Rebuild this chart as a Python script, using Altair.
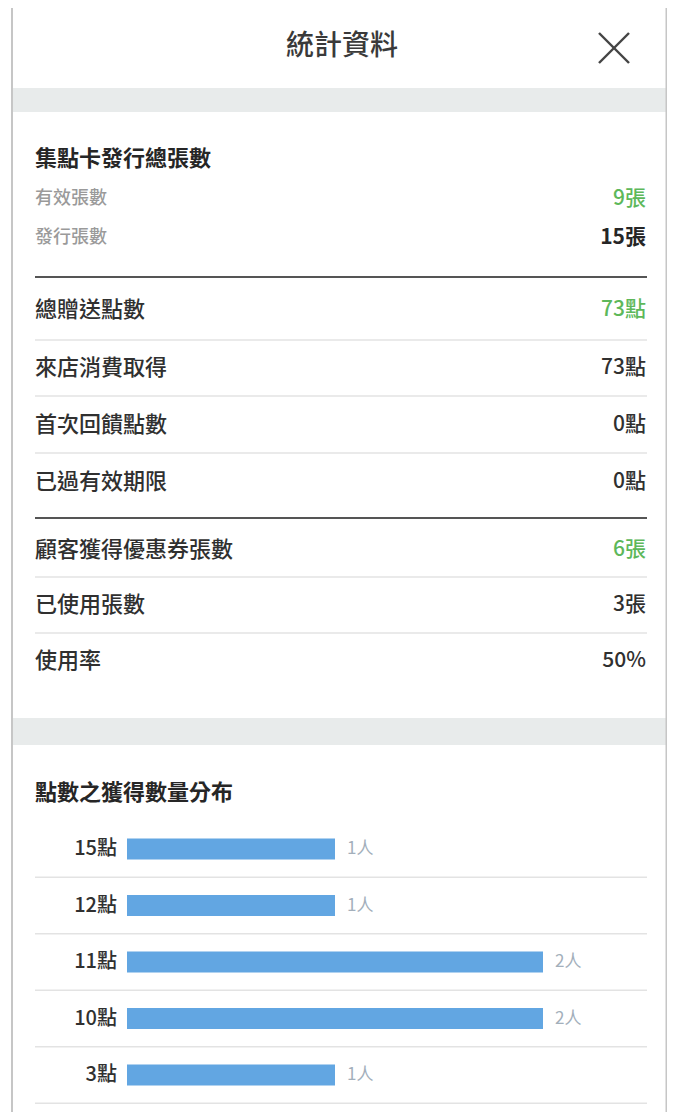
import altair as alt
import pandas as pd

# ---------------- data ----------------
page_title = "統計資料"

card_title = "集點卡發行總張數"
card_labels = ["有效張數", "發行張數"]
card_values = [9, 15]

point_labels = ["總贈送點數", "來店消費取得", "首次回饋點數", "已過有效期限"]
point_values = [73, 73, 0, 0]

coupon_labels = ["顧客獲得優惠券張數", "已使用張數", "使用率"]
coupon_values = [6, 3, 50]
coupon_units = ["張", "張", "%"]

dist_title = "點數之獲得數量分布"
dist_points = ["15點", "12點", "11點", "10點", "3點", "1點"]
dist_people = [1, 1, 2, 2, 1, 1]

# ---------------- layout / style ----------------
W, H = 659, 1104
FONT = "Noto Sans CJK TC"
GREEN = "#5db85a"
DARK = "#262626"
TEXT = "#303030"
GREY = "#9a9a9a"
BAR = "#62a6e2"
LX, RX = 27, 638          # text column left / right
LINE_X0, LINE_X1 = 27, 639

card_title_y = 151
card_y = [191, 230]
point_y = [302, 360, 417, 474]
coupon_y = [542, 597, 653]
dist_title_y = 785
thick_y = [269, 510]
thin_y = [332, 388, 445, 569, 625]
bands = [(80, 104), (710, 737)]
dist_range = [812.75, 1151.75]

ypix = alt.Scale(domain=[0, H], range=[0, H])

# ---------------- tables ----------------
rows_sub = pd.DataFrame(dict(label=card_labels, y=card_y))
card_vals = pd.DataFrame(dict(value=[f"{v}張" for v in card_values], y=card_y))

main_rows = []
for i, (lab, v, y) in enumerate(zip(point_labels, point_values, point_y)):
    main_rows.append(dict(label=lab, value=f"{v}點", y=y, c=GREEN if i == 0 else TEXT))
for i, (lab, v, u, y) in enumerate(zip(coupon_labels, coupon_values, coupon_units, coupon_y)):
    main_rows.append(dict(label=lab, value=f"{v}{u}", y=y, c=GREEN if i == 0 else TEXT))
main_df = pd.DataFrame(main_rows)

heads = pd.DataFrame(dict(label=[card_title, dist_title], y=[card_title_y, dist_title_y]))
band_df = pd.DataFrame(dict(y=[b[0] for b in bands], y2=[b[1] for b in bands]))
thick_df = pd.DataFrame(dict(y=thick_y))
thin_df = pd.DataFrame(dict(y=thin_y))

dist_df = pd.DataFrame(dict(pts=dist_points, people=dist_people,
                            ptxt=[f"{p}人" for p in dist_people]))

# ---------------- layers ----------------
base_txt = dict(font=FONT, baseline="middle")

border_l = alt.Chart(pd.DataFrame({"a": [0]})).mark_rule(color="#c6c6c6", strokeWidth=2).encode(
    x=alt.value(4), y=alt.value(0), y2=alt.value(H))
border_r = alt.Chart(pd.DataFrame({"a": [0]})).mark_rule(color="#c6c6c6", strokeWidth=2).encode(
    x=alt.value(658.5), y=alt.value(0), y2=alt.value(H))

band_layer = alt.Chart(band_df).mark_rect(color="#e8ebeb").encode(
    x=alt.value(5), x2=alt.value(658),
    y=alt.Y("y:Q", scale=ypix, axis=None), y2="y2:Q")

title_layer = alt.Chart(pd.DataFrame({"t": [page_title]})).mark_text(
    fontSize=28, fontWeight=500, color="#3a3a3a", align="center", **base_txt).encode(
    x=alt.value(334), y=alt.value(39), text="t:N")

close_df = pd.DataFrame(dict(x=[591, 591], x2=[621, 621], y=[25, 55], y2=[55, 25]))
close_layer = alt.Chart(close_df).mark_rule(color="#444444", strokeWidth=2.4).encode(
    x=alt.X("x:Q", scale=alt.Scale(domain=[0, W], range=[0, W]), axis=None),
    x2="x2:Q",
    y=alt.Y("y:Q", scale=ypix, axis=None), y2="y2:Q")

head_layer = alt.Chart(heads).mark_text(
    fontSize=22, fontWeight="bold", color=DARK, align="left", **base_txt).encode(
    x=alt.value(LX), y=alt.Y("y:Q", scale=ypix, axis=None), text="label:N")

sub_layer = alt.Chart(rows_sub).mark_text(
    fontSize=18, fontWeight=500, color=GREY, align="left", **base_txt).encode(
    x=alt.value(LX), y=alt.Y("y:Q", scale=ypix, axis=None), text="label:N")

card_val_green = alt.Chart(card_vals.iloc[[0]]).mark_text(
    fontSize=21, fontWeight=500, color=GREEN, align="right", **base_txt).encode(
    x=alt.value(RX), y=alt.Y("y:Q", scale=ypix, axis=None), text="value:N")
card_val_dark = alt.Chart(card_vals.iloc[[1]]).mark_text(
    fontSize=21, fontWeight="bold", color=DARK, align="right", **base_txt).encode(
    x=alt.value(RX), y=alt.Y("y:Q", scale=ypix, axis=None), text="value:N")

main_lab = alt.Chart(main_df).mark_text(
    fontSize=22, fontWeight=500, color=TEXT, align="left", **base_txt).encode(
    x=alt.value(LX), y=alt.Y("y:Q", scale=ypix, axis=None), text="label:N")
main_val = alt.Chart(main_df).mark_text(
    fontSize=21, fontWeight=500, align="right", **base_txt).encode(
    x=alt.value(RX), y=alt.Y("y:Q", scale=ypix, axis=None), text="value:N",
    color=alt.Color("c:N", scale=None))

thick_layer = alt.Chart(thick_df).mark_rule(color="#555555", strokeWidth=2.2).encode(
    x=alt.value(LINE_X0), x2=alt.value(LINE_X1), y=alt.Y("y:Q", scale=ypix, axis=None))
thin_layer = alt.Chart(thin_df).mark_rule(color="#e3e3e3", strokeWidth=1.5).encode(
    x=alt.value(LINE_X0), x2=alt.value(LINE_X1), y=alt.Y("y:Q", scale=ypix, axis=None))

yband = alt.Scale(domain=dist_points, range=dist_range, paddingInner=0, paddingOuter=0)
xq = alt.Scale(domain=[0, 2.5], range=[119, 639])

sep_layer = alt.Chart(dist_df).mark_rule(color="#e3e3e3", strokeWidth=1.5, clip=True).encode(
    x=alt.value(LINE_X0), x2=alt.value(LINE_X1),
    y=alt.Y("pts:N", sort=dist_points, scale=yband, axis=None, bandPosition=1))

bar_layer = alt.Chart(dist_df).mark_bar(color=BAR, height=21, clip=True).encode(
    x=alt.X("people:Q", scale=xq, axis=None),
    y=alt.Y("pts:N", sort=dist_points, scale=yband, axis=None))

pts_lab = alt.Chart(dist_df).mark_text(
    fontSize=20, fontWeight=500, color=TEXT, align="right", clip=True, **base_txt).encode(
    x=alt.value(109),
    y=alt.Y("pts:N", sort=dist_points, scale=yband, axis=None), text="pts:N")

ppl_lab = alt.Chart(dist_df).mark_text(
    fontSize=17, color="#a3afbb", align="left", dx=12, clip=True, **base_txt).encode(
    x=alt.X("people:Q", scale=xq, axis=None),
    y=alt.Y("pts:N", sort=dist_points, scale=yband, axis=None), text="ptxt:N")

chart = alt.layer(
    band_layer, border_l, border_r, title_layer, close_layer,
    head_layer, sub_layer, card_val_green, card_val_dark,
    thick_layer, thin_layer, main_lab, main_val,
    sep_layer, bar_layer, pts_lab, ppl_lab,
).resolve_scale(y="independent", x="independent").properties(
    width=W, height=H, padding=0, autosize=alt.AutoSizeParams(type="none"),
    background="white",
).configure_view(stroke=None)

chart.save("out.html", embed_options={"renderer": "svg", "actions": False})
